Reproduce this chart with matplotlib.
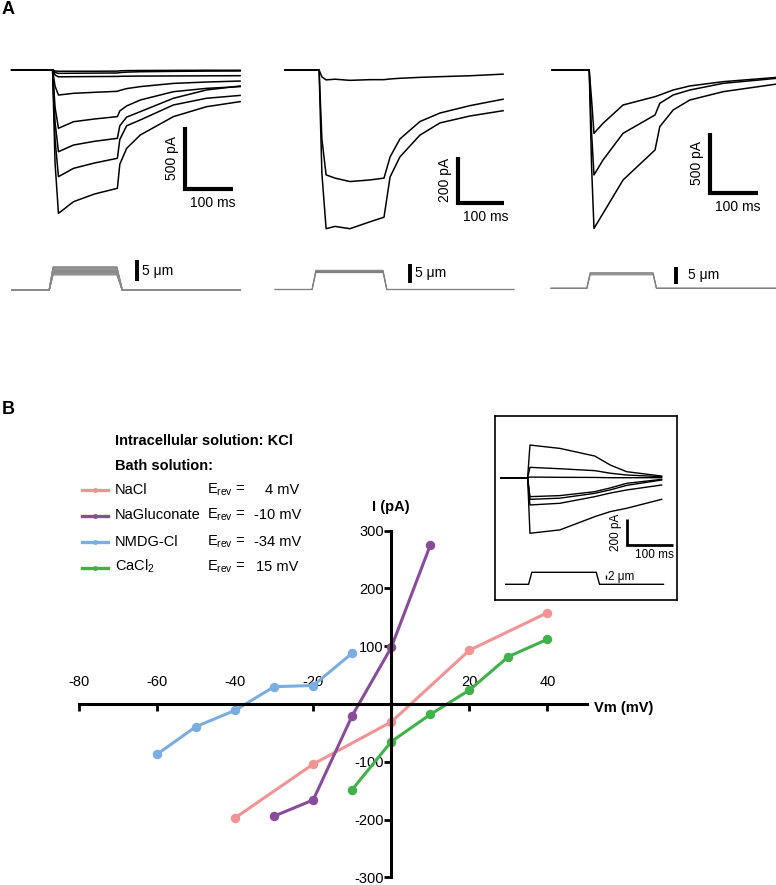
import matplotlib.pyplot as plt
from matplotlib.lines import Line2D

plt.rcParams['font.family'] = ['Liberation Sans', 'DejaVu Sans']
plt.rcParams['mathtext.fontset'] = 'custom'
plt.rcParams['mathtext.rm'] = 'Liberation Sans'
plt.rcParams['mathtext.it'] = 'Liberation Sans:italic'
plt.rcParams['mathtext.bf'] = 'Liberation Sans:bold'
plt.rcParams['axes.unicode_minus'] = False

W, H = 776, 885

# ---- panel A, left: NaCl-like family (time ms, current pA)
a1_t = [0, 84, 89, 96, 127, 170, 217, 222, 236, 264, 332, 400, 469]
a1_traces = [
    [0, 0, -8, -10, -10, -10, -9, -7, -5, -4, -3, -2, -2],
    [0, 0, -20, -27, -26, -25, -24, -21, -17, -14, -11, -9, -8],
    [0, 0, -40, -55, -54, -53, -52, -51, -50, -49, -48, -47, -46],
    [0, 0, -130, -202, -188, -180, -172, -165, -150, -134, -108, -97, -89],
    [0, 0, -300, -470, -417, -395, -376, -330, -290, -242, -175, -148, -134],
    [0, 0, -420, -659, -605, -575, -551, -450, -380, -336, -228, -161, -129],
    [0, 0, -560, -860, -793, -750, -712, -560, -450, -403, -282, -228, -205],
    [0, 0, -750, -1156, -1062, -1000, -954, -760, -632, -524, -376, -296, -255],
]
a1_stim_t = [0, 77, 85, 216, 227, 469]
a1_stim_um = [3.6, 3.8, 4.0, 4.2, 4.4, 4.6, 4.8, 5.0, 5.2, 5.4, 5.5]

# ---- panel A, middle
a2_t = [0, 73, 79, 88, 107, 139, 182, 212, 225, 246, 289, 332, 396, 467]
a2_traces = [
    [0, 0, -30, -43, -40, -45, -42, -42, -39, -36, -32, -29, -25, -18],
    [0, 0, -300, -456, -470, -485, -478, -470, -378, -300, -224, -187, -155, -127],
    [0, 0, -450, -690, -680, -690, -660, -640, -465, -378, -283, -230, -200, -177],
]
a2_stim_t = [-21, 58, 66, 210, 218, 490]
a2_stim_um = [4.6, 4.9, 5.2]

# ---- panel A, right
a3_t = [0, 78, 83, 88, 107, 149, 216, 226, 254, 289, 359, 471]
a3_traces = [
    [0, 0, -252, -532, -448, -294, -224, -210, -168, -134, -98, -62],
    [0, 0, -532, -882, -756, -532, -378, -280, -210, -168, -112, -70],
    [0, 0, -812, -1331, -1205, -924, -672, -476, -336, -252, -182, -118],
]
a3_stim_t = [-2, 73, 80, 212, 219, 471]
a3_stim_um = [3.9, 4.2, 4.5]

# ---- panel B inset (KCl bath)
ins_t = [0, 57, 62, 126, 201, 234, 269, 344]
ins_traces = [
    [0, 0, 255, 229, 169, 99, 47, 13],
    [0, 0, 81, 70, 55, 35, 21, 8],
    [0, 0, 5, 3, 2, 0, 0, 0],
    [0, 0, -148, -140, -109, -80, -44, -13],
    [0, 0, -169, -160, -122, -95, -60, -18],
    [0, 0, -213, -200, -148, -120, -96, -57],
    [0, 0, -434, -408, -304, -265, -239, -169],
]
ins_stim_t = [10, 59, 66, 204, 211, 348]
ins_stim_um = [6]

# ---- panel B, I-V curves
solutions = ['NaCl', 'NaGluconate', 'NMDG-Cl', 'CaCl$_2$']
erev_mv = [4, -10, -34, 15]
vm_nacl = [-40, -20, 0, 20, 40]
i_nacl = [-197, -104, -31, 93, 158]
vm_nagluc = [-30, -20, -10, 0, 10]
i_nagluc = [-194, -166, -20, 98, 275]
vm_nmdg = [-60, -50, -40, -30, -20, -10]
i_nmdg = [-87, -39, -11, 30, 32, 88]
vm_cacl2 = [-10, 0, 10, 20, 30, 40]
i_cacl2 = [-148, -65, -18, 24, 82, 112]
colors = ['#f29493', '#8b4b9d', '#7aaee0', '#3fb34a']

fig = plt.figure(figsize=(W / 100, H / 100), dpi=100)


def px_axes(box, xa, sx, ya, sy, frame=False):
    # box in pixels (left, top, right, bottom); anchors map a pixel to a data value
    x0, y0, x1, y1 = box
    ax = fig.add_axes([x0 / W, 1 - y1 / H, (x1 - x0) / W, (y1 - y0) / H])
    ax.set_xlim(xa[1] + (x0 - xa[0]) / sx, xa[1] + (x1 - xa[0]) / sx)
    ax.set_ylim(ya[1] - (y1 - ya[0]) / sy, ya[1] + (ya[0] - y0) / sy)
    if not frame:
        ax.axis('off')
    return ax


def draw_traces(ax, t, traces, lw=1.1):
    for tr in traces:
        ax.plot(t, tr, color='black', lw=lw, solid_joinstyle='round')


def draw_stim(ax, t, amps, color='#808080', lw=0.8):
    for a in amps:
        ax.plot(t, [0, 0, a, a, 0, 0], color=color, lw=lw)


def pa_bar(ax, t, i, dt, di, ilabel, tlabel, lw=3, fs=10, ioff=-4, toff=-5):
    ax.plot([t, t, t + dt], [i + di, i, i], color='black', lw=lw,
            solid_joinstyle='miter', solid_capstyle='butt')
    ax.annotate(ilabel, (t, i + di / 2), xytext=(ioff, 0), textcoords='offset points',
                rotation=90, ha='right', va='center', fontsize=fs)
    ax.annotate(tlabel, (t + dt / 2, i), xytext=(3, toff), textcoords='offset points',
                ha='center', va='top', fontsize=fs)


def um_bar(ax, t, y, dy, label, off=4, lw=2.8, fs=10):
    ax.plot([t, t], [y, y + dy], color='black', lw=lw, solid_capstyle='butt')
    ax.annotate(label, (t, y + dy / 2), xytext=(off, 0), textcoords='offset points',
                ha='left', va='center', fontsize=fs)


# panel A column 1
ax = px_axes((0, 30, 256, 245), (11.7, 0), 0.487, (70, 0), 0.124)
draw_traces(ax, a1_t, a1_traces)
pa_bar(ax, 355, -960, 100, 500, '500 pA', '100 ms')
axs = px_axes((0, 250, 256, 300), (11.7, 0), 0.487, (290, 0), 4.2)
draw_stim(axs, a1_stim_t, a1_stim_um, color='#8a8a8a', lw=0.9)
um_bar(axs, 257, 2.1, 5, '5 μm')

# panel A column 2
ax = px_axes((266, 30, 522, 245), (285, 0), 0.467, (70, 0), 0.23)
draw_traces(ax, a2_t, a2_traces)
pa_bar(ax, 370, -580, 100, 200, '200 pA', '100 ms')
axs = px_axes((266, 250, 522, 300), (285, 0), 0.467, (289.5, 0), 3.68)
draw_stim(axs, a2_stim_t, a2_stim_um)
um_bar(axs, 267, 1.85, 5, '5 μm')

# panel A column 3
ax = px_axes((530, 30, 776, 245), (552, 0), 0.477, (70, 0), 0.119)
draw_traces(ax, a3_t, a3_traces)
pa_bar(ax, 331, -1031, 100, 500, '500 pA', '100 ms')
axs = px_axes((530, 250, 776, 300), (552, 0), 0.477, (288.3, 0), 3.46)
draw_stim(axs, a3_stim_t, a3_stim_um)
um_bar(axs, 261, 1.24, 5, '5 μm', off=8)

fig.text(2 / W, 1 - 9 / H, 'A', fontsize=13, weight='bold', va='center')
fig.text(2 / W, 1 - 410 / H, 'B', fontsize=13, weight='bold', va='center')

# panel B: I-V plot
iv = px_axes((60, 490, 600, 885), (391.3, 0), 3.905, (704, 0), 0.578, frame=True)
iv.set_facecolor('none')
series = [(vm_nacl, i_nacl), (vm_nagluc, i_nagluc), (vm_nmdg, i_nmdg), (vm_cacl2, i_cacl2)]
for (v, i), c in zip(series, colors):
    iv.plot(v, i, '-o', color=c, lw=2.2, ms=5.8, clip_on=False)
for side in ['right', 'bottom']:
    iv.spines[side].set_visible(False)
iv.spines['left'].set_position(('data', 0))
iv.spines['top'].set_position(('data', 0))
iv.spines['left'].set_linewidth(2.2)
iv.spines['top'].set_linewidth(2.2)
iv.spines['top'].set_bounds(-80, 50)
iv.spines['left'].set_bounds(-300, 300)
iv.xaxis.set_ticks_position('top')
iv.yaxis.set_ticks_position('left')
iv.set_xticks([-80, -60, -40, -20, 20, 40])
iv.set_yticks([-300, -200, -100, 100, 200, 300])
iv.tick_params(axis='x', direction='in', length=5, width=2, pad=11, labelsize=10.5)
iv.tick_params(axis='y', direction='out', length=5, width=2, pad=0.5, labelsize=10.5)
iv.text(0, 340, 'I (pA)', ha='center', va='center', fontsize=10.5, weight='bold')
iv.text(52, -7, 'Vm (mV)', ha='left', va='center', fontsize=10.5, weight='bold')

# legend block
fig.text(115 / W, 1 - 445 / H, 'Intracellular solution: KCl', fontsize=10.5,
         weight='bold', va='baseline')
fig.text(115 / W, 1 - 470 / H, 'Bath solution:', fontsize=10.5, weight='bold', va='baseline')
row_base = [493.5, 519, 545.5, 571]
erev_x = [265, 254, 254, 256]
for name, c, e, yb, ex in zip(solutions, colors, erev_mv, row_base, erev_x):
    yl = 1 - (yb - 3.5) / H
    fig.add_artist(Line2D([82 / W, 108 / W], [yl, yl], color=c, lw=2.4))
    fig.add_artist(Line2D([95 / W], [yl], color=c, marker='o', ms=2.5))
    fig.text(115 / W, 1 - yb / H, name, fontsize=10.5, va='baseline')
    fig.text(207 / W, 1 - yb / H, r'E$_{\rm rev}$ =', fontsize=10.5, va='baseline')
    fig.text(ex / W, 1 - yb / H, f'{e} mV', fontsize=10.5, va='baseline')

# inset
frame = fig.add_axes([495 / W, 1 - 600 / H, 182 / W, 184 / H])
frame.set_xticks([])
frame.set_yticks([])
for s in frame.spines.values():
    s.set_linewidth(1.2)
axi = px_axes((497, 418, 675, 560), (501, 0), 0.467, (477.7, 0), 0.128)
draw_traces(axi, ins_t, ins_traces, lw=1.0)
pa_bar(axi, 269, -526, 100, 200, '200 pA', '100 ms', lw=2, fs=8.5, ioff=-3, toff=-3)
axis_stim = px_axes((497, 562, 675, 598), (501, 0), 0.467, (584.3, 0), 2.0)
draw_stim(axis_stim, ins_stim_t, ins_stim_um, color='black', lw=1.0)
um_bar(axis_stim, 224, 2.5, 2, '2 μm', off=2, lw=1.0, fs=8.5)

fig.savefig('out.png', dpi=100)
